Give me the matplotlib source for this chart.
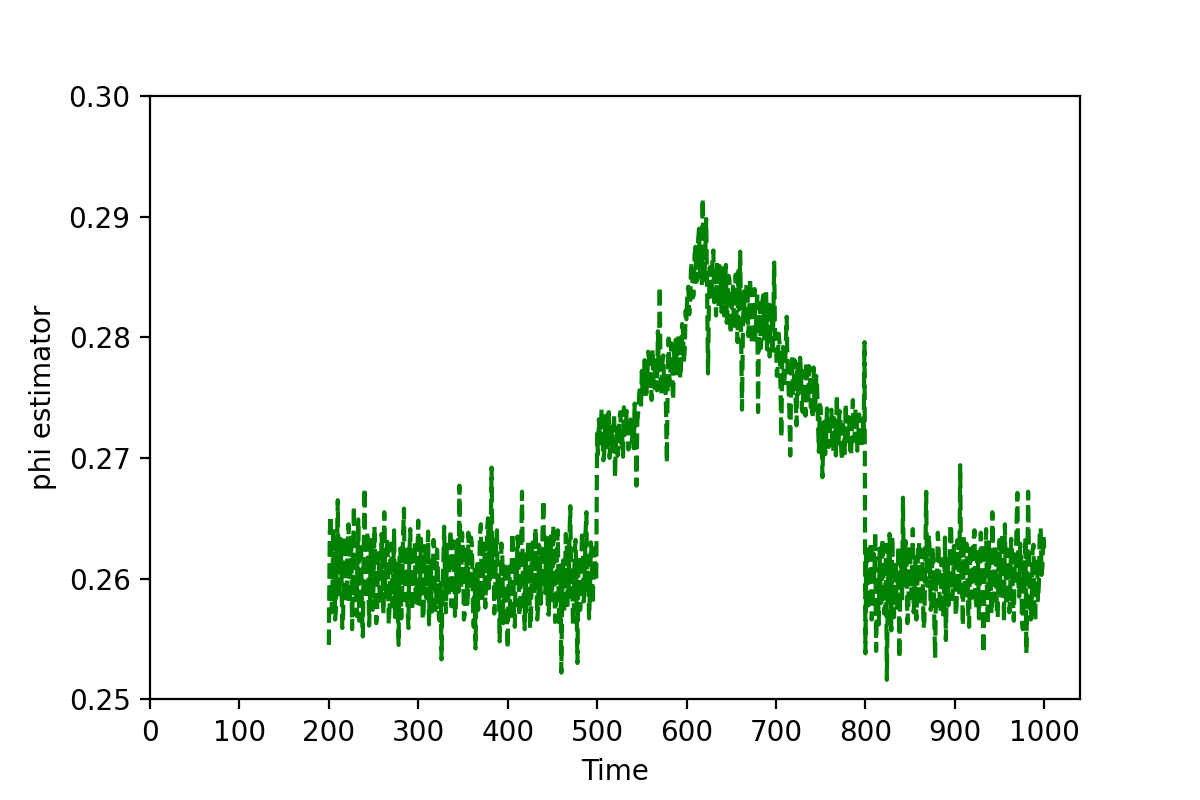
import numpy as np
import matplotlib
matplotlib.use("Agg")
from matplotlib import pyplot as plt

# phi estimate per time step
time = np.arange(200, 1001)

# t = 200 .. 499
phi_before = [
    0.2545, 0.2638, 0.2652, 0.2572, 0.2590, 0.2641, 0.2628, 0.2566, 0.2575, 0.2622,
    0.2665, 0.2584, 0.2598, 0.2633, 0.2610, 0.2559, 0.2570, 0.2618, 0.2635, 0.2581,
    0.2588, 0.2627, 0.2645, 0.2579, 0.2602, 0.2636, 0.2558, 0.2611, 0.2660, 0.2587,
    0.2592, 0.2569, 0.2618, 0.2649, 0.2565, 0.2604, 0.2630, 0.2576, 0.2552, 0.2622,
    0.2675, 0.2583, 0.2598, 0.2639, 0.2612, 0.2561, 0.2580, 0.2632, 0.2625, 0.2574,
    0.2595, 0.2643, 0.2605, 0.2563, 0.2572, 0.2621, 0.2618, 0.2578, 0.2590, 0.2637,
    0.2608, 0.2571, 0.2655, 0.2596, 0.2585, 0.2634, 0.2615, 0.2562, 0.2578, 0.2629,
    0.2622, 0.2577, 0.2600, 0.2640, 0.2568, 0.2606, 0.2612, 0.2581, 0.2545, 0.2619,
    0.2625, 0.2567, 0.2590, 0.2636, 0.2658, 0.2582, 0.2595, 0.2628, 0.2575, 0.2559,
    0.2618, 0.2641, 0.2602, 0.2573, 0.2585, 0.2626, 0.2630, 0.2586, 0.2580, 0.2617,
    0.2648, 0.2579, 0.2592, 0.2633, 0.2610, 0.2566, 0.2572, 0.2627, 0.2620, 0.2584,
    0.2598, 0.2639, 0.2562, 0.2594, 0.2615, 0.2571, 0.2590, 0.2632, 0.2625, 0.2574,
    0.2580, 0.2624, 0.2605, 0.2568, 0.2565, 0.2596, 0.2533, 0.2587, 0.2612, 0.2643,
    0.2595, 0.2572, 0.2628, 0.2591, 0.2585, 0.2619, 0.2640, 0.2577, 0.2598, 0.2631,
    0.2615, 0.2569, 0.2575, 0.2628, 0.2632, 0.2589, 0.2677, 0.2603, 0.2592, 0.2638,
    0.2622, 0.2566, 0.2570, 0.2624, 0.2610, 0.2579, 0.2638, 0.2597, 0.2590, 0.2634,
    0.2628, 0.2583, 0.2560, 0.2609, 0.2542, 0.2593, 0.2612, 0.2574, 0.2595, 0.2637,
    0.2645, 0.2581, 0.2588, 0.2629, 0.2620, 0.2576, 0.2605, 0.2641, 0.2650, 0.2592,
    0.2598, 0.2636, 0.2692, 0.2611, 0.2625, 0.2571, 0.2585, 0.2633, 0.2640, 0.2584,
    0.2602, 0.2548, 0.2575, 0.2629, 0.2618, 0.2563, 0.2568, 0.2614, 0.2595, 0.2576,
    0.2542, 0.2604, 0.2610, 0.2566, 0.2585, 0.2638, 0.2625, 0.2572, 0.2560, 0.2616,
    0.2598, 0.2635, 0.2615, 0.2569, 0.2578, 0.2627, 0.2672, 0.2601, 0.2590, 0.2558,
    0.2620, 0.2573, 0.2582, 0.2631, 0.2608, 0.2559, 0.2565, 0.2622, 0.2630, 0.2587,
    0.2595, 0.2642, 0.2612, 0.2566, 0.2575, 0.2628, 0.2625, 0.2579, 0.2600, 0.2639,
    0.2665, 0.2593, 0.2588, 0.2634, 0.2618, 0.2571, 0.2570, 0.2626, 0.2635, 0.2582,
    0.2598, 0.2644, 0.2610, 0.2564, 0.2580, 0.2621, 0.2640, 0.2583, 0.2560, 0.2611,
    0.2522, 0.2589, 0.2615, 0.2572, 0.2595, 0.2637, 0.2628, 0.2578, 0.2585, 0.2631,
    0.2660, 0.2594, 0.2605, 0.2562, 0.2575, 0.2623, 0.2632, 0.2581, 0.2530, 0.2607,
    0.2618, 0.2574, 0.2592, 0.2639, 0.2625, 0.2581, 0.2598, 0.2636, 0.2655, 0.2589,
    0.2605, 0.2567, 0.2588, 0.2630, 0.2620, 0.2579, 0.2602, 0.2625, 0.2612, 0.2598,
]

# t = 500 .. 799
phi_event = [
    0.2720, 0.2703, 0.2732, 0.2716, 0.2712, 0.2741, 0.2728, 0.2698, 0.2705, 0.2727,
    0.2735, 0.2709, 0.2720, 0.2738, 0.2700, 0.2724, 0.2730, 0.2706, 0.2715, 0.2737,
    0.2684, 0.2713, 0.2725, 0.2702, 0.2710, 0.2733, 0.2738, 0.2711, 0.2718, 0.2701,
    0.2742, 0.2719, 0.2722, 0.2739, 0.2730, 0.2707, 0.2712, 0.2734, 0.2735, 0.2714,
    0.2725, 0.2708, 0.2745, 0.2719, 0.2677, 0.2731, 0.2738, 0.2752, 0.2760, 0.2741,
    0.2772, 0.2749, 0.2755, 0.2781, 0.2778, 0.2753, 0.2765, 0.2788, 0.2782, 0.2757,
    0.2768, 0.2748, 0.2790, 0.2763, 0.2758, 0.2784, 0.2775, 0.2756, 0.2805, 0.2771,
    0.2842, 0.2766, 0.2752, 0.2779, 0.2785, 0.2758, 0.2770, 0.2741, 0.2696, 0.2767,
    0.2799, 0.2761, 0.2772, 0.2795, 0.2765, 0.2748, 0.2788, 0.2771, 0.2798, 0.2776,
    0.2770, 0.2802, 0.2792, 0.2766, 0.2780, 0.2811, 0.2805, 0.2779, 0.2790, 0.2822,
    0.2815, 0.2838, 0.2842, 0.2819, 0.2828, 0.2857, 0.2862, 0.2833, 0.2835, 0.2868,
    0.2875, 0.2846, 0.2850, 0.2881, 0.2890, 0.2852, 0.2868, 0.2843, 0.2915, 0.2861,
    0.2845, 0.2872, 0.2898, 0.2839, 0.2770, 0.2826, 0.2858, 0.2831, 0.2832, 0.2866,
    0.2872, 0.2829, 0.2840, 0.2818, 0.2862, 0.2836, 0.2825, 0.2859, 0.2855, 0.2821,
    0.2838, 0.2861, 0.2818, 0.2842, 0.2860, 0.2812, 0.2825, 0.2851, 0.2848, 0.2803,
    0.2810, 0.2836, 0.2842, 0.2807, 0.2828, 0.2852, 0.2815, 0.2796, 0.2855, 0.2823,
    0.2871, 0.2808, 0.2740, 0.2803, 0.2838, 0.2817, 0.2812, 0.2843, 0.2845, 0.2801,
    0.2820, 0.2849, 0.2832, 0.2794, 0.2805, 0.2833, 0.2840, 0.2798, 0.2815, 0.2838,
    0.2738, 0.2806, 0.2828, 0.2791, 0.2802, 0.2831, 0.2835, 0.2797, 0.2815, 0.2838,
    0.2790, 0.2812, 0.2830, 0.2784, 0.2808, 0.2826, 0.2785, 0.2813, 0.2862, 0.2799,
    0.2800, 0.2768, 0.2775, 0.2803, 0.2795, 0.2762, 0.2717, 0.2781, 0.2792, 0.2758,
    0.2770, 0.2796, 0.2817, 0.2773, 0.2760, 0.2739, 0.2702, 0.2764, 0.2785, 0.2752,
    0.2765, 0.2781, 0.2748, 0.2727, 0.2778, 0.2753, 0.2755, 0.2783, 0.2770, 0.2741,
    0.2738, 0.2772, 0.2762, 0.2735, 0.2780, 0.2757, 0.2745, 0.2776, 0.2768, 0.2742,
    0.2752, 0.2733, 0.2775, 0.2746, 0.2740, 0.2768, 0.2760, 0.2729, 0.2705, 0.2744,
    0.2742, 0.2716, 0.2684, 0.2722, 0.2730, 0.2703, 0.2712, 0.2741, 0.2738, 0.2709,
    0.2718, 0.2736, 0.2740, 0.2711, 0.2705, 0.2733, 0.2728, 0.2702, 0.2752, 0.2721,
    0.2712, 0.2739, 0.2735, 0.2706, 0.2698, 0.2727, 0.2725, 0.2704, 0.2745, 0.2715,
    0.2710, 0.2734, 0.2730, 0.2703, 0.2702, 0.2729, 0.2748, 0.2714, 0.2720, 0.2741,
    0.2738, 0.2706, 0.2712, 0.2736, 0.2725, 0.2708, 0.2715, 0.2731, 0.2718, 0.2796,
]

# t = 800 .. 1000
phi_after = [
    0.2538, 0.2626, 0.2612, 0.2574, 0.2585, 0.2617, 0.2630, 0.2566, 0.2572, 0.2621,
    0.2598, 0.2639, 0.2540, 0.2591, 0.2595, 0.2562, 0.2625, 0.2589, 0.2580, 0.2633,
    0.2605, 0.2571, 0.2575, 0.2628, 0.2516, 0.2583, 0.2620, 0.2637, 0.2590, 0.2557,
    0.2635, 0.2598, 0.2568, 0.2614, 0.2612, 0.2576, 0.2585, 0.2627, 0.2534, 0.2593,
    0.2622, 0.2581, 0.2667, 0.2603, 0.2595, 0.2631, 0.2610, 0.2563, 0.2578, 0.2619,
    0.2628, 0.2584, 0.2600, 0.2641, 0.2572, 0.2587, 0.2618, 0.2566, 0.2592, 0.2629,
    0.2630, 0.2577, 0.2585, 0.2624, 0.2608, 0.2559, 0.2565, 0.2613, 0.2672, 0.2594,
    0.2598, 0.2636, 0.2620, 0.2574, 0.2580, 0.2626, 0.2612, 0.2568, 0.2534, 0.2601,
    0.2595, 0.2638, 0.2625, 0.2579, 0.2572, 0.2616, 0.2610, 0.2568, 0.2588, 0.2634,
    0.2549, 0.2597, 0.2618, 0.2578, 0.2600, 0.2645, 0.2640, 0.2583, 0.2590, 0.2627,
    0.2612, 0.2569, 0.2578, 0.2632, 0.2625, 0.2586, 0.2694, 0.2607, 0.2598, 0.2561,
    0.2635, 0.2592, 0.2582, 0.2629, 0.2615, 0.2571, 0.2560, 0.2619, 0.2628, 0.2584,
    0.2595, 0.2631, 0.2640, 0.2588, 0.2575, 0.2622, 0.2612, 0.2567, 0.2590, 0.2638,
    0.2625, 0.2579, 0.2538, 0.2596, 0.2605, 0.2641, 0.2585, 0.2562, 0.2630, 0.2591,
    0.2600, 0.2571, 0.2655, 0.2604, 0.2582, 0.2627, 0.2618, 0.2573, 0.2568, 0.2619,
    0.2632, 0.2586, 0.2595, 0.2637, 0.2610, 0.2564, 0.2645, 0.2599, 0.2578, 0.2624,
    0.2615, 0.2572, 0.2590, 0.2633, 0.2625, 0.2581, 0.2565, 0.2611, 0.2608, 0.2643,
    0.2671, 0.2598, 0.2585, 0.2629, 0.2620, 0.2569, 0.2558, 0.2606, 0.2595, 0.2634,
    0.2538, 0.2597, 0.2672, 0.2609, 0.2600, 0.2566, 0.2580, 0.2624, 0.2628, 0.2574,
    0.2565, 0.2617, 0.2615, 0.2582, 0.2595, 0.2639, 0.2642, 0.2603, 0.2610, 0.2636,
    0.2625,
]

phi = np.array(phi_before + phi_event + phi_after)

x_ticks = np.arange(0, 1001, 100)
y_ticks = [0.25, 0.26, 0.27, 0.28, 0.29, 0.30]

fig, ax = plt.subplots(figsize=(6, 4), dpi=200)
fig.subplots_adjust(left=0.125, right=0.9, top=0.88, bottom=0.126)

ax.plot(time, phi, linestyle="--", color="green")
ax.set_xlim(left=0)
ax.set_ylim(0.25, 0.30)
ax.set_xticks(x_ticks)
ax.set_yticks(y_ticks)
ax.set_yticklabels([f"{v:.2f}" for v in y_ticks])
ax.set_xlabel("Time")
ax.set_ylabel("phi estimator")

fig.savefig("out.png")
